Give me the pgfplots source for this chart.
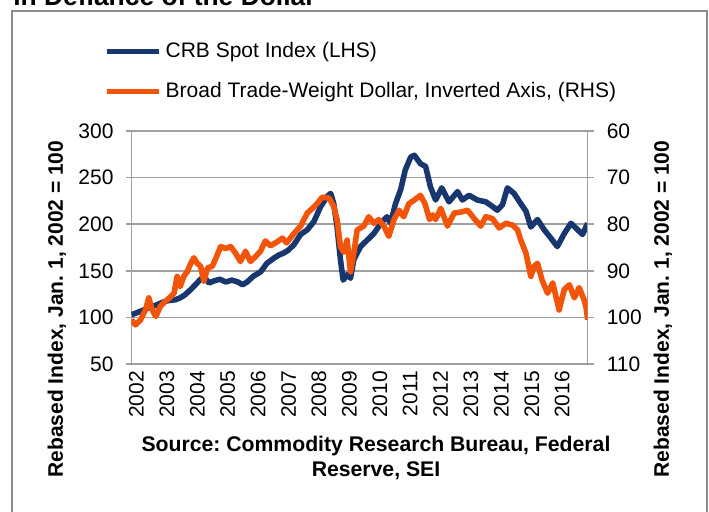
\documentclass[border=0pt]{standalone}
\usepackage{fontspec}
\setmainfont{Liberation Sans}
\usepackage{pgfplots}
\pgfplotsset{compat=1.18}
\definecolor{crbblue}{RGB}{23,55,110}
\definecolor{usdorange}{RGB}{242,84,10}
\definecolor{gridgray}{RGB}{160,160,160}
\definecolor{framegray}{RGB}{140,140,140}
\frenchspacing
\begin{document}
\begin{tikzpicture}
% picture area: 709 x 511 px at 0.5pt per px, origin top left
\useasboundingbox (0,0) rectangle (354.5pt,-255.5pt);
\draw[framegray, line width=1pt] (6pt,-5.5pt) rectangle (353.5pt,-262pt);
\node[anchor=base west, inner sep=0, font=\bfseries\fontsize{13.2}{15}\selectfont] at (6.5pt,-2.6pt) {in Defiance of the Dollar};

\pgfplotsset{every axis/.append style={
  width=228.1pt, height=116.5pt, scale only axis,
  at={(65.75pt,-182pt)}, anchor=south west,
  xmin=2002, xmax=2017,
  /pgf/number format/assume math mode=true,
  tick label style={font=\fontsize{10.5}{12}\selectfont},
  axis line style={gridgray, line width=0.75pt},
  major tick style={gridgray, line width=0.75pt},
}}

\begin{axis}[
  ymin=50, ymax=300, ytick={50,100,...,300},
  axis y line*=left, axis x line*=bottom,
  ymajorgrids, grid style={gridgray, line width=0.75pt},
  xtick={2002,...,2016}, x tick label style={/pgf/number format/1000 sep={}, rotate=90, anchor=east, yshift=-2.5pt},
  y tick label style={xshift=-2.5pt},
  xtick style={draw=none},
  ytick align=outside, major tick length=3pt,
]
\addplot[crbblue, line width=2.8pt, line join=round] coordinates {
(2002.00,103) (2002.10,104) (2002.25,106) (2002.40,108) (2002.60,111) (2002.80,113)
(2003.00,116) (2003.20,118) (2003.45,119) (2003.60,121) (2003.75,124) (2003.95,130)
(2004.10,135) (2004.27,141) (2004.40,143) (2004.55,137) (2004.70,139) (2004.90,141)
(2005.10,138) (2005.30,140) (2005.50,138) (2005.65,135) (2005.80,138) (2006.00,144)
(2006.25,149) (2006.45,158) (2006.70,164) (2006.85,167) (2007.00,169) (2007.15,172)
(2007.34,178) (2007.56,189) (2007.78,194) (2008.00,203) (2008.22,219) (2008.44,230)
(2008.55,233) (2008.65,222) (2008.76,197) (2008.87,162) (2008.96,140) (2009.09,146)
(2009.20,142) (2009.31,162) (2009.53,176) (2009.75,183) (2009.97,190) (2010.20,201)
(2010.40,208) (2010.52,201) (2010.68,222) (2010.85,237) (2011.00,258) (2011.18,272)
(2011.30,274) (2011.50,265) (2011.67,262) (2011.83,240) (2012.00,226) (2012.20,239)
(2012.44,224) (2012.72,235) (2012.88,226) (2013.10,231) (2013.37,226) (2013.65,224)
(2013.87,219) (2014.03,215) (2014.20,221) (2014.36,239) (2014.58,233) (2014.80,222)
(2014.97,214) (2015.13,197) (2015.35,205) (2015.57,194) (2015.79,185) (2016.00,176)
(2016.23,190) (2016.45,201) (2016.67,194) (2016.83,189) (2017.00,201)
};
\end{axis}

\begin{axis}[
  ymin=60, ymax=110, ytick={60,70,...,110}, y dir=reverse,
  axis y line*=right, axis x line=none,
  y tick label style={xshift=3pt},
  ytick align=outside, major tick length=3pt,
  legend style={at={(axis description cs:-0.061,1.40)}, anchor=north west,
    draw=none, fill=none, inner sep=0pt, row sep=7pt,
    font=\fontsize{10.5}{12}\selectfont,
    /tikz/every even column/.append style={column sep=0pt}},
  legend cell align=left,
  legend image code/.code={\draw[#1, line width=2.8pt] (0pt,0pt) -- (26pt,0pt);},
]
\addlegendimage{crbblue}
\addlegendentry{CRB Spot Index (LHS)}
\addplot[usdorange, line width=2.8pt, line join=round] coordinates {
(2002.00,100.5) (2002.13,101.6) (2002.30,100.5) (2002.46,98.4) (2002.57,95.8) (2002.68,98.4)
(2002.80,99.8) (2002.95,97.6) (2003.10,96.6) (2003.25,95.8) (2003.40,94.8) (2003.50,91.2)
(2003.60,93.4) (2003.72,91.2) (2003.83,90.2) (2003.95,88.4) (2004.05,87.2) (2004.16,88.4)
(2004.27,89.0) (2004.38,92.2) (2004.50,89.4) (2004.66,89.0) (2004.82,86.6) (2004.93,84.8)
(2005.10,85.2) (2005.26,84.8) (2005.42,86.2) (2005.58,88.0) (2005.75,85.8) (2005.91,88.0)
(2006.07,87.0) (2006.24,85.8) (2006.40,83.6) (2006.57,84.6) (2006.74,84.0) (2006.96,83.0)
(2007.10,84.0) (2007.34,82.0) (2007.56,80.4) (2007.78,77.6) (2007.95,76.6) (2008.10,75.6)
(2008.27,74.2) (2008.50,74.4) (2008.65,76.2) (2008.76,79.0) (2008.87,84.8) (2008.98,86.0)
(2009.09,83.4) (2009.20,90.2) (2009.31,86.2) (2009.42,81.2) (2009.64,80.4) (2009.80,78.4)
(2009.97,79.8) (2010.13,79.0) (2010.30,80.4) (2010.46,82.6) (2010.63,79.0) (2010.80,77.0)
(2010.95,78.4) (2011.12,75.6) (2011.30,74.8) (2011.50,73.8) (2011.65,75.6) (2011.80,79.0)
(2011.90,78.0) (2012.00,79.0) (2012.17,76.6) (2012.39,80.4) (2012.61,77.6) (2012.83,77.4)
(2013.05,77.0) (2013.27,78.8) (2013.48,80.4) (2013.65,78.4) (2013.87,78.8) (2014.09,80.8)
(2014.31,79.8) (2014.53,80.2) (2014.69,81.2) (2014.80,83.4) (2014.97,86.2) (2015.13,91.2)
(2015.24,89.0) (2015.35,88.4) (2015.50,92.0) (2015.68,94.8) (2015.85,92.6) (2016.06,98.4)
(2016.23,94.0) (2016.40,93.0) (2016.56,95.8) (2016.72,93.6) (2016.88,96.2) (2016.95,98.0)
(2017.00,100.5)
};
\addlegendentry{Broad Trade-Weight Dollar, Inverted Axis, (RHS)}
\end{axis}

\node[rotate=90, font=\bfseries\fontsize{10.5}{12}\selectfont] at (28.5pt,-154.5pt) {Rebased Index, Jan. 1, 2002 = 100};
\node[rotate=90, font=\bfseries\fontsize{10.5}{12}\selectfont] at (331.5pt,-154.5pt) {Rebased Index, Jan. 1, 2002 = 100};
\node[align=center, font=\bfseries\fontsize{10.6}{12.5}\selectfont] at (188pt,-229pt) {Source: Commodity Research Bureau, Federal\\Reserve, SEI};
\end{tikzpicture}
\end{document}
